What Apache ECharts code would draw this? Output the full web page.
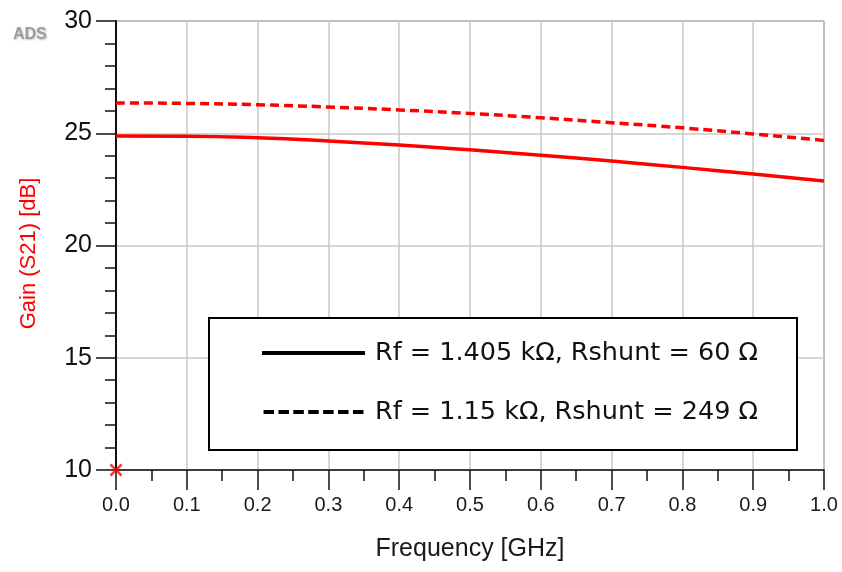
<!DOCTYPE html>
<html>
<head>
<meta charset="utf-8">
<script src="https://cdn.jsdelivr.net/npm/echarts@6/dist/echarts.min.js"></script>
<style>
  html, body { margin: 0; padding: 0; background: #fff; }
  #chart { width: 842px; height: 572px; }
</style>
</head>
<body>
<div id="chart"></div>
<script>
// Frequency sweep points (GHz)
const freqGHz = [0.0, 0.1, 0.2, 0.3, 0.4, 0.5, 0.6, 0.7, 0.8, 0.9, 1.0];
// Gain S21 in dB for the two resistor configurations
const gainRf1405 = [24.88, 24.87, 24.80, 24.66, 24.48, 24.26, 24.02, 23.76, 23.48, 23.18, 22.87];
const gainRf115 = [26.35, 26.33, 26.27, 26.17, 26.04, 25.88, 25.69, 25.47, 25.24, 24.97, 24.68];
const seriesNames = ['Rf = 1.405 kΩ, Rshunt = 60 Ω', 'Rf = 1.15 kΩ, Rshunt = 249 Ω'];
// Sweep start marker
const markerPoint = [0.0, 10];

const toPairs = (xs, ys) => xs.map((x, i) => [x, ys[i]]);

// Legend icons: a solid bar and a row of seven dashes, both 103 units wide
const solidIcon = 'path://M0,0H103V4H0Z';
const dashedIcon = 'path://' + [0, 1, 2, 3, 4, 5, 6]
  .map(i => { const x = i * 14.9; return 'M' + x + ',0H' + (x + 10.5) + 'V4H' + x + 'Z'; })
  .join(' ');

const chart = echarts.init(document.getElementById('chart'), null, { renderer: 'canvas' });
const axisFont = 'Liberation Sans, Arial, sans-serif';

chart.setOption({
  animation: false,
  backgroundColor: '#fff',
  grid: {
    left: 116, right: 18, top: 21, bottom: 102,
    show: true, borderColor: '#555', borderWidth: 1, backgroundColor: 'transparent'
  },
  xAxis: {
    type: 'value', min: 0, max: 1, interval: 0.1,
    name: 'Frequency [GHz]', nameLocation: 'middle', nameGap: 67,
    nameTextStyle: { fontFamily: axisFont, fontSize: 25, color: '#1a1a1a' },
    axisLine: { show: true, lineStyle: { color: '#111', width: 1.5 } },
    axisTick: { show: true, inside: false, length: 20, lineStyle: { color: '#111', width: 1.5 } },
    minorTick: { show: true, splitNumber: 2, length: 11, lineStyle: { color: '#111', width: 1.5 } },
    axisLabel: { margin: 25, fontFamily: axisFont, fontSize: 20, color: '#1a1a1a', formatter: v => v.toFixed(1) },
    splitLine: { show: true, lineStyle: { color: '#c8c8c8', width: 1.5 } }
  },
  yAxis: {
    type: 'value', min: 10, max: 30, interval: 5,
    name: 'Gain (S21) [dB]', nameLocation: 'middle', nameGap: 76,
    nameTextStyle: { fontFamily: axisFont, fontSize: 22, color: '#ff0000', padding: [0, 16, 0, 0] },
    axisLine: { show: true, lineStyle: { color: '#111', width: 2 } },
    axisTick: { show: true, inside: false, length: 20, lineStyle: { color: '#111', width: 1.5 } },
    minorTick: { show: true, splitNumber: 5, length: 11, lineStyle: { color: '#111', width: 1.5 } },
    axisLabel: { margin: 24, fontFamily: axisFont, fontSize: 25, color: '#111' },
    splitLine: { show: true, lineStyle: { color: '#c8c8c8', width: 1.5 } }
  },
  legend: {
    orient: 'vertical', left: 262, top: 338, z: 100,
    padding: 0, itemGap: 29, itemWidth: 103, itemHeight: 4,
    textStyle: { fontFamily: 'DejaVu Sans, sans-serif', fontSize: 25.5, color: '#111', lineHeight: 30, padding: [0, 0, 0, 5] },
    itemStyle: { color: '#000', borderWidth: 0 },
    data: [
      { name: seriesNames[0], icon: solidIcon, itemStyle: { color: '#000' } },
      { name: seriesNames[1], icon: dashedIcon, itemStyle: { color: '#000' } }
    ]
  },
  graphic: [
    {
      type: 'rect', z: 50,
      shape: { x: 209, y: 318, width: 588, height: 132 },
      style: { fill: '#fff', stroke: '#000', lineWidth: 2 }
    },
    {
      type: 'text', left: 13, top: 27, z: 50,
      style: {
        text: 'ADS', fill: '#9c9c9c', font: 'bold 16px Liberation Sans, Arial, sans-serif',
        textShadowColor: 'rgba(0,0,0,0.25)', textShadowBlur: 2, textShadowOffsetX: 1, textShadowOffsetY: 1
      }
    }
  ],
  series: [
    {
      name: seriesNames[0], type: 'line', smooth: true, showSymbol: false, symbol: 'none',
      data: toPairs(freqGHz, gainRf1405),
      lineStyle: { color: '#ff0000', width: 3.5, type: 'solid' },
      itemStyle: { color: '#ff0000' }, z: 5
    },
    {
      name: seriesNames[1], type: 'line', smooth: true, showSymbol: false, symbol: 'none',
      data: toPairs(freqGHz, gainRf115),
      lineStyle: { color: '#ff0000', width: 3.5, type: [9, 5] },
      itemStyle: { color: '#ff0000' }, z: 5
    },
    {
      type: 'scatter', data: [markerPoint], symbolSize: 13, silent: true, z: 6,
      symbol: 'path://M0,2 L2,0 L7,5 L12,0 L14,2 L9,7 L14,12 L12,14 L7,9 L2,14 L0,12 L5,7 Z',
      itemStyle: { color: '#ff0000' }
    }
  ]
});
</script>
</body>
</html>
